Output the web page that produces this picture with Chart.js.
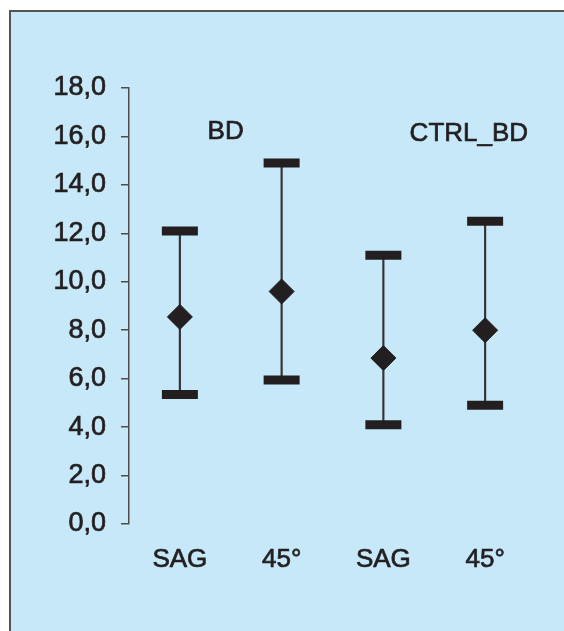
<!DOCTYPE html>
<html lang="en">
<head>
    <meta charset="UTF-8">
    <title>BD vs CTRL_BD</title>
    <script src="https://cdn.jsdelivr.net/npm/chart.js"></script>
    <style>
        html, body { margin: 0; padding: 0; background: #ffffff; }
        .panel {
            position: absolute;
            left: 9px;
            top: 10px;
            width: 553px;
            height: 619px;
            background: #c6e8f8;
            border-left: 2px solid #555555;
            border-top: 2px solid #555555;
        }
        .panel canvas { display: block; }
    </style>
</head>
<body>
    <div class="panel">
        <canvas id="errChart" width="553" height="619"></canvas>
    </div>

    <script>
        // values
        const categories = ['SAG', '45°', 'SAG', '45°'];
        const meanValues = [8.55, 9.6, 6.85, 8.0];
        const highValues = [12.1, 14.9, 11.1, 12.5];
        const lowValues = [5.35, 5.95, 4.1, 4.9];
        const groupLabels = ['BD', 'CTRL_BD'];
        const yTicks = [0, 2, 4, 6, 8, 10, 12, 14, 16, 18];

        const ink = '#231f20';
        const axisGrey = '#4d4d4d';
        const fontFamily = '"Liberation Sans", Arial, Helvetica, sans-serif';

        // where the group titles sit, in category / value units
        const groupLabelAt = [[0.45, 16.2], [2.84, 16.1]];

        const groupLabelPlugin = {
            id: 'groupLabels',
            afterDatasetsDraw(chart) {
                const ctx = chart.ctx;
                const xs = chart.scales.x;
                const ys = chart.scales.y;
                ctx.save();
                ctx.fillStyle = ink;
                ctx.strokeStyle = ink;
                ctx.lineWidth = 0.7;
                ctx.font = '26px ' + fontFamily;
                ctx.textAlign = 'center';
                ctx.textBaseline = 'middle';
                groupLabels.forEach((txt, i) => {
                    const pos = groupLabelAt[i];
                    const x0 = xs.getPixelForValue(Math.floor(pos[0]));
                    const x1 = xs.getPixelForValue(Math.floor(pos[0]) + 1);
                    const x = x0 + (x1 - x0) * (pos[0] - Math.floor(pos[0]));
                    const y = ys.getPixelForValue(pos[1]);
                    ctx.strokeText(txt, x, y);
                    ctx.fillText(txt, x, y);
                });
                ctx.restore();
            }
        };

        const ctx = document.getElementById('errChart').getContext('2d');
        new Chart(ctx, {
            data: {
                labels: categories,
                datasets: [
                    {
                        type: 'bar',
                        label: 'range',
                        data: lowValues.map((v, i) => [v, highValues[i]]),
                        backgroundColor: '#333333',
                        barThickness: 1.5,
                        order: 3
                    },
                    {
                        type: 'line',
                        label: 'high',
                        data: highValues,
                        showLine: false,
                        pointStyle: 'line',
                        pointRadius: 18,
                        pointBorderWidth: 9,
                        pointBorderColor: ink,
                        order: 2
                    },
                    {
                        type: 'line',
                        label: 'low',
                        data: lowValues,
                        showLine: false,
                        pointStyle: 'line',
                        pointRadius: 18,
                        pointBorderWidth: 9,
                        pointBorderColor: ink,
                        order: 2
                    },
                    {
                        type: 'line',
                        label: 'mean',
                        data: meanValues,
                        showLine: false,
                        pointStyle: 'rectRot',
                        pointRadius: 12.5,
                        pointBorderWidth: 1,
                        pointBackgroundColor: ink,
                        pointBorderColor: ink,
                        order: 1
                    }
                ]
            },
            options: {
                responsive: false,
                animation: false,
                events: [],
                layout: {
                    padding: { left: 0, right: 28, top: 76, bottom: 57 }
                },
                plugins: {
                    legend: { display: false },
                    tooltip: { enabled: false }
                },
                scales: {
                    x: {
                        offset: true,
                        grid: { display: false, drawTicks: false },
                        border: { display: false },
                        ticks: {
                            color: ink,
                            font: { family: fontFamily, size: 26 },
                            textStrokeColor: ink,
                            textStrokeWidth: 0.7,
                            padding: 20,
                            maxRotation: 0
                        },
                        afterFit(scale) { scale.height = 50; }
                    },
                    y: {
                        min: 0,
                        max: 18,
                        afterBuildTicks(scale) {
                            scale.ticks = yTicks.map(v => ({ value: v }));
                        },
                        grid: {
                            drawOnChartArea: false,
                            drawTicks: true,
                            tickLength: 8,
                            color: axisGrey,
                            lineWidth: 1.5
                        },
                        border: { display: true, color: axisGrey, width: 1.5 },
                        ticks: {
                            color: ink,
                            font: { family: fontFamily, size: 27 },
                            textStrokeColor: ink,
                            textStrokeWidth: 0.7,
                            padding: 15,
                            callback: v => v.toFixed(1).replace('.', ',')
                        },
                        afterFit(scale) { scale.width = 118; }
                    }
                }
            },
            plugins: [groupLabelPlugin]
        });
    </script>
</body>
</html>
